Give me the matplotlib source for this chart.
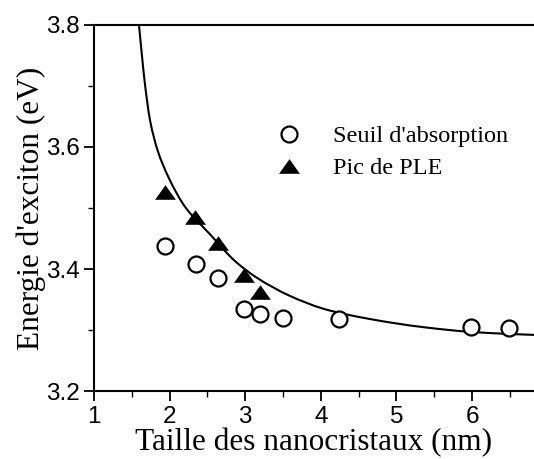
import matplotlib
matplotlib.use('Agg')
import matplotlib.pyplot as plt
import numpy as np
from matplotlib.path import Path
from matplotlib.patches import PathPatch
from matplotlib.ticker import MultipleLocator

# seuil d'absorption (cercles)
taille_abs = [1.94, 2.35, 2.64, 2.98, 3.20, 3.50, 4.24, 5.99, 6.49]
energie_abs = [3.438, 3.409, 3.386, 3.334, 3.326, 3.319, 3.318, 3.305, 3.304]

# pic de PLE (triangles)
taille_ple = [1.94, 2.34, 2.64, 2.99, 3.19]
energie_ple = [3.527, 3.485, 3.442, 3.390, 3.363]

# courbe theorique
taille_fit = [1.595, 1.631, 1.675, 1.741, 1.84, 1.983, 2.204, 2.534, 2.865, 3.15,
              3.59, 4.03, 4.34, 4.65, 4.96, 5.40, 5.97, 6.50, 6.82]
energie_fit = [3.800, 3.754, 3.702, 3.644, 3.595, 3.551, 3.502, 3.457, 3.413, 3.386,
               3.356, 3.335, 3.3255, 3.318, 3.3115, 3.304, 3.297, 3.2935, 3.292]


def courbe_lisse(xs, ys):
    # chemin de Bezier (tangentes type PCHIP) passant par les points lus
    x = np.asarray(xs, float)
    y = np.asarray(ys, float)
    h = np.diff(x)
    d = np.diff(y) / h
    m = np.zeros_like(x)
    m[0], m[-1] = d[0], d[-1]
    for i in range(1, len(x) - 1):
        if d[i - 1] * d[i] > 0:
            w1 = 2 * h[i] + h[i - 1]
            w2 = h[i] + 2 * h[i - 1]
            m[i] = (w1 + w2) / (w1 / d[i - 1] + w2 / d[i])
    verts = [(x[0], y[0])]
    codes = [Path.MOVETO]
    for i in range(len(x) - 1):
        verts += [(x[i] + h[i] / 3, y[i] + m[i] * h[i] / 3),
                  (x[i + 1] - h[i] / 3, y[i + 1] - m[i + 1] * h[i] / 3),
                  (x[i + 1], y[i + 1])]
        codes += [Path.CURVE4] * 3
    return Path(verts, codes)


plt.rcParams['font.family'] = 'Liberation Serif'

fig = plt.figure(figsize=(5.34, 4.59), dpi=100)
ax = fig.add_axes([94/534, 1-391/459, 440/534, 366/459])

tri = [(-1, -0.7), (1, -0.7), (0, 0.7), (-1, -0.7)]

ax.add_patch(PathPatch(courbe_lisse(taille_fit, energie_fit), facecolor='none',
                       edgecolor='black', lw=1.5, zorder=2))
ax.plot(taille_abs, energie_abs, linestyle='none', marker='o', ms=11.5,
        mfc='white', mec='black', mew=1.6, label="Seuil d'absorption", zorder=3)
ax.plot(taille_ple, energie_ple, linestyle='none', marker=tri, ms=15,
        mfc='black', mec='black', mew=0, label='Pic de PLE', zorder=3)

ax.set_xlim(1, 6.82)
ax.set_ylim(3.2, 3.8)
ax.xaxis.set_major_locator(MultipleLocator(1))
ax.xaxis.set_minor_locator(MultipleLocator(0.5))
ax.yaxis.set_major_locator(MultipleLocator(0.2))
ax.yaxis.set_minor_locator(MultipleLocator(0.1))
ax.spines['right'].set_visible(False)
for s in ['left', 'bottom', 'top']:
    ax.spines[s].set_linewidth(1.5)
ax.tick_params(which='major', direction='out', length=7, width=1.3)
ax.tick_params(which='minor', direction='out', length=4, width=1.0)
ax.tick_params(top=False, right=False)
for lab in ax.get_xticklabels() + ax.get_yticklabels():
    lab.set_family('Liberation Sans')
    lab.set_fontsize(17.5)

ax.set_xlabel('Taille des nanocristaux (nm)', fontsize=22.5, labelpad=0)
ax.set_ylabel("Energie d'exciton (eV)", fontsize=22.5, labelpad=0)

ax.legend(loc='center left', bbox_to_anchor=(0.388, 0.652), frameon=False,
          fontsize=17.5, handlelength=2, handletextpad=0.81, borderpad=0,
          borderaxespad=0, labelspacing=0.42)

fig.savefig('out.png', dpi=100)
